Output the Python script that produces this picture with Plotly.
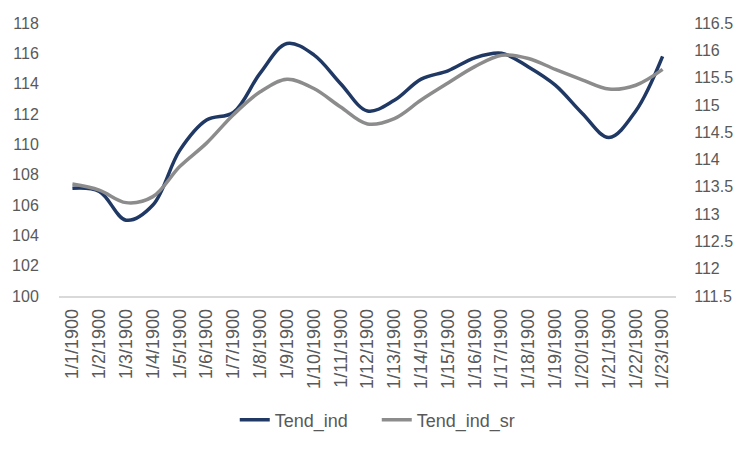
import plotly.graph_objects as go

categories = [f"1/{d}/1900" for d in range(1, 24)]
tend_ind = [107.1, 106.9, 105.0, 106.0, 109.6, 111.6, 112.1, 114.7, 116.65, 115.9,
            114.0, 112.2, 112.9, 114.3, 114.85, 115.7, 116.0, 115.1, 113.9, 112.05,
            110.45, 112.2, 115.8]
tend_ind_sr = [113.55, 113.44, 113.21, 113.32, 113.87, 114.3, 114.82, 115.24, 115.47, 115.3,
               114.96, 114.65, 114.75, 115.09, 115.4, 115.7, 115.91, 115.85, 115.65, 115.46,
               115.29, 115.36, 115.65]

left_ticks = list(range(100, 119, 2))
right_ticks = [111.5 + 0.5 * i for i in range(11)]

font_family = "Liberation Sans"
label_color = "#595959"

fig = go.Figure()
fig.add_trace(go.Scatter(
    x=categories, y=tend_ind, name="Tend_ind", mode="lines",
    line=dict(color="#203864", width=3.5, shape="spline", smoothing=1.0),
))
fig.add_trace(go.Scatter(
    x=categories, y=tend_ind_sr, name="Tend_ind_sr", mode="lines", yaxis="y2",
    line=dict(color="#8C8C8C", width=3.5, shape="spline", smoothing=1.0),
))

fig.update_layout(
    width=750, height=450,
    margin=dict(l=51, r=82, t=15, b=162),
    paper_bgcolor="white", plot_bgcolor="white",
    font=dict(family=font_family, size=16, color=label_color),
    showlegend=True,
    legend=dict(orientation="h", x=0.515, xanchor="center", y=-0.454, yanchor="middle",
                font=dict(size=18, color=label_color),
                entrywidth=97, entrywidthmode="pixels"),
    xaxis=dict(
        type="category", tickangle=-90, showgrid=False, zeroline=False, automargin=False,
        showline=True, linecolor="#D9D9D9", linewidth=1.5,
        ticks="outside", ticklen=4, tickcolor="rgba(0,0,0,0)",
        tickfont=dict(size=18, color=label_color),
        range=[-0.5, len(categories) - 0.5],
    ),
    yaxis=dict(
        range=[100, 118], tickvals=left_ticks, showgrid=False, zeroline=False,
        automargin=False,
        showline=False, ticks="outside", ticklen=16, tickcolor="rgba(0,0,0,0)",
        tickfont=dict(size=16, color=label_color),
    ),
    yaxis2=dict(
        range=[111.5, 116.5], tickvals=right_ticks, overlaying="y", side="right",
        showgrid=False, zeroline=False, showline=False, automargin=False,
        ticks="outside", ticklen=14, tickcolor="rgba(0,0,0,0)",
        tickfont=dict(size=16, color=label_color),
    ),
)

fig.write_html("out.html")
